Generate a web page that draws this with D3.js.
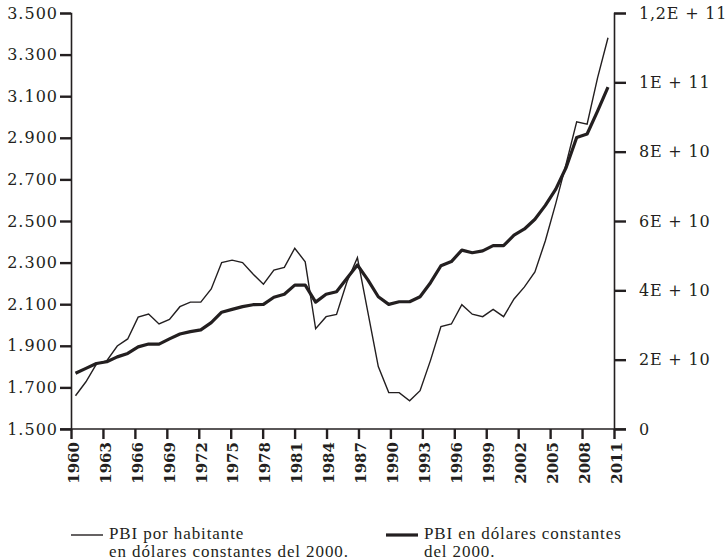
<!DOCTYPE html>
<html>
<head>
<meta charset="utf-8">
<script src="https://cdn.jsdelivr.net/npm/d3@7"></script>
<style>
  body { margin: 0; background: #fff; }
  svg { display: block; }
  .tick-label { font-family: "DejaVu Serif", serif; font-size: 16px; fill: #231f20; }
  .year-label { font-family: "DejaVu Serif", serif; font-size: 15px; font-weight: bold; fill: #231f20; }
  .legend-text { font-family: "Liberation Serif", serif; font-size: 17px; fill: #231f20; }
</style>
</head>
<body>
<div id="chart"></div>
<script>
// Years shown on the category axis (one point per year)
const years = d3.range(1960, 2012);
const yearTicks = d3.range(1960, 2012, 3);

// PBI por habitante, dólares constantes del 2000 (left axis)
const pbiPorHabitante = [
  1660, 1727, 1812, 1828, 1899, 1933, 2038, 2053, 2005, 2027,
  2088, 2110, 2110, 2173, 2300, 2312, 2300, 2245, 2196, 2264,
  2277, 2369, 2304, 1982, 2040, 2051, 2208, 2324, 2062, 1800,
  1675, 1675, 1636, 1684, 1830, 1992, 2005, 2098, 2052, 2040,
  2075, 2040, 2125, 2183, 2255, 2405, 2585, 2777, 2977, 2966,
  3188, 3381
];

// PBI total en dólares constantes del 2000, in units of 1E+10 (right axis)
const pbiTotal = [
  1.61, 1.75, 1.89, 1.94, 2.08, 2.18, 2.37, 2.45, 2.45, 2.60,
  2.74, 2.81, 2.86, 3.07, 3.37, 3.45, 3.53, 3.585, 3.595, 3.80,
  3.885, 4.15, 4.15, 3.66, 3.885, 3.96, 4.35, 4.73, 4.30, 3.815,
  3.595, 3.67, 3.67, 3.815, 4.22, 4.71, 4.83, 5.16, 5.085, 5.14,
  5.29, 5.29, 5.59, 5.77, 6.05, 6.45, 6.92, 7.55, 8.41, 8.51,
  9.17, 9.86
];

const leftTicks = d3.range(1500, 3501, 200);
const rightTicks = [0, 2, 4, 6, 8, 10, 12];
const rightTickLabels = ['0', '2E + 10', '4E + 10', '6E + 10', '8E + 10', '1E + 11', '1,2E + 11'];

const legendItems = [
  { lines: ['PBI por habitante', 'en dólares constantes del 2000.'], width: 1.4 },
  { lines: ['PBI en dólares constantes', 'del 2000.'], width: 3.2 }
];

const width = 728, height = 559;
const plot = { left: 71, right: 614, top: 13, bottom: 429 };
const ink = '#231f20';

const svg = d3.select('#chart').append('svg')
    .attr('width', width)
    .attr('height', height);

// Scales
const x = d3.scaleLinear().domain([1960, 2011]).range([plot.left, plot.right]);
const xPoint = d3.scalePoint().domain(years).range([75.5, 608]);
const yLeft = d3.scaleLinear().domain([1500, 3500]).range([plot.bottom, plot.top]);
const yRight = d3.scaleLinear().domain([0, 12]).range([plot.bottom, plot.top]);

const es = d3.formatLocale({ decimal: ',', thousands: '.', grouping: [3], currency: ['', ''] });

// Left axis
const leftAxis = svg.append('g')
    .attr('transform', `translate(${plot.left},0)`)
    .call(d3.axisLeft(yLeft).tickValues(leftTicks).tickSize(11).tickPadding(2).tickFormat(es.format(',d')));

// Right axis
const rightAxis = svg.append('g')
    .attr('transform', `translate(${plot.right},0)`)
    .call(d3.axisRight(yRight).tickValues(rightTicks).tickSize(12).tickPadding(13)
      .tickFormat((d, i) => rightTickLabels[i]));

// Bottom axis
const bottomAxis = svg.append('g')
    .attr('transform', `translate(0,${plot.bottom})`)
    .call(d3.axisBottom(x).tickValues(yearTicks).tickSize(10).tickFormat(d3.format('d')));

[leftAxis, rightAxis, bottomAxis].forEach(g => {
  g.select('.domain').attr('stroke', ink).attr('stroke-width', 1.6);
  g.selectAll('.tick line').attr('stroke', ink).attr('stroke-width', 2.4);
});
leftAxis.selectAll('.tick text').attr('class', 'tick-label').attr('letter-spacing', 1).attr('font-size', null).attr('font-family', null);
rightAxis.selectAll('.tick text').attr('class', 'tick-label').attr('letter-spacing', 0.8).attr('font-size', null).attr('font-family', null);

// Extend the base line a bit to the left and right like the original
bottomAxis.select('.domain').attr('d', `M${plot.left - 11},0H${plot.right + 12}`);

bottomAxis.selectAll('.tick text')
    .attr('class', 'year-label')
    .attr('font-size', null).attr('font-family', null)
    .attr('transform', 'rotate(-90)')
    .attr('text-anchor', 'end')
    .attr('x', -13)
    .attr('y', 2)
    .attr('dy', '0.35em');

// Lines
const lineLeft = d3.line()
    .x((d, i) => xPoint(years[i]))
    .y(d => yLeft(d));

const lineRight = d3.line()
    .x((d, i) => xPoint(years[i]))
    .y(d => yRight(d));

svg.append('path')
    .datum(pbiTotal)
    .attr('fill', 'none')
    .attr('stroke', ink)
    .attr('stroke-width', 3.2)
    .attr('stroke-linejoin', 'round')
    .attr('d', lineRight);

svg.append('path')
    .datum(pbiPorHabitante)
    .attr('fill', 'none')
    .attr('stroke', ink)
    .attr('stroke-width', 1.4)
    .attr('stroke-linejoin', 'miter')
    .attr('d', lineLeft);

// Legend
const legend = svg.append('g').attr('transform', 'translate(0,535)');
const legendX = [71, 386];

legendItems.forEach((item, i) => {
  const g = legend.append('g').attr('transform', `translate(${legendX[i]},0)`);
  g.append('line')
      .attr('x1', 0).attr('x2', 32)
      .attr('stroke', ink)
      .attr('stroke-width', item.width);
  const t = g.append('text')
      .attr('class', 'legend-text')
      .attr('letter-spacing', 0.9)
      .attr('x', 38)
      .attr('y', 4);
  item.lines.forEach((l, j) => {
    t.append('tspan').attr('x', 38).attr('dy', j === 0 ? 0 : 17.5).text(l);
  });
});
</script>
</body>
</html>
